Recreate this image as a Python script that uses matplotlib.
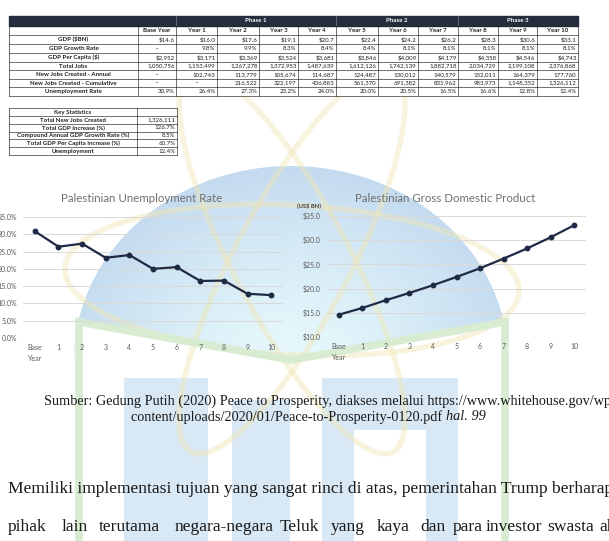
import numpy as np
import matplotlib.pyplot as plt
from matplotlib.patches import Rectangle, Ellipse, Polygon

# ---- data (Peace to Prosperity, p. 99) ----
years = ['Base Year'] + [f'Year {i}' for i in range(1, 11)]
phases = ['Phase 1', 'Phase 2', 'Phase 3']
phase_cols = [(1, 4), (5, 7), (8, 10)]

gdp = [14.6, 16.0, 17.6, 19.1, 20.7, 22.4, 24.2, 26.2, 28.3, 30.6, 33.1]
gdp_growth = [None, 9.8, 9.9, 8.3, 8.4, 8.4, 8.1, 8.1, 8.1, 8.1, 8.1]
gdp_per_capita = [2952, 3171, 3369, 3524, 3681, 3846, 4009, 4179, 4358, 4546, 4743]
total_jobs = [1050756, 1153499, 1267278, 1372953, 1487639, 1612126, 1742139,
              1882718, 2034729, 2199108, 2376868]
new_jobs_annual = [None, 102743, 113779, 105674, 114687, 124487, 130012,
                   140579, 152011, 164379, 177760]
new_jobs_cumulative = [None, None, 216522, 322197, 436883, 561370, 691382,
                       831962, 983973, 1148352, 1326112]
unemployment = [30.9, 26.4, 27.3, 23.2, 24.0, 20.0, 20.5, 16.5, 16.6, 12.8, 12.4]

key_labels = ['Key Statistics', 'Total New Jobs Created', 'Total GDP Increase (%)',
              'Compound Annual GDP Growth Rate (%)', 'Total GDP Per Capita Increase (%)',
              'Unemployment']
key_values = ['', '1,326,111', '126.7%', '8.5%', '60.7%', '12.4%']

x_labels = ['Base\nYear'] + [str(i) for i in range(1, 11)]

W, H = 609, 541
NAVY = '#1f2a45'
GREY = '#595959'


def fmt(v, kind):
    if v is None:
        return '-'
    if kind == 'usd1':
        return f'${v:.1f}'
    if kind == 'pct':
        return f'{v:.1f}%'
    if kind == 'usd0':
        return f'${v:,.0f}'
    return f'{v:,.0f}'


rows = [
    ('GDP ($BN)', [fmt(v, 'usd1') for v in gdp]),
    ('GDP Growth Rate', [fmt(v, 'pct') for v in gdp_growth]),
    ('GDP Per Capita ($)', [fmt(v, 'usd0') for v in gdp_per_capita]),
    ('Total Jobs', [fmt(v, 'int') for v in total_jobs]),
    ('New Jobs Created - Annual', [fmt(v, 'int') for v in new_jobs_annual]),
    ('New Jobs Created - Cumulative', [fmt(v, 'int') for v in new_jobs_cumulative]),
    ('Unemployment Rate', [fmt(v, 'pct') for v in unemployment]),
]


def px_rect(x0, y0, x1, y1):
    return [x0 / W, 1 - y1 / H, (x1 - x0) / W, (y1 - y0) / H]


fig = plt.figure(figsize=(W / 100, H / 100), dpi=100)
bg = fig.add_axes([0, 0, 1, 1])
bg.set_xlim(0, W)
bg.set_ylim(H, 0)
bg.axis('off')

# ---- watermark (faded logo) ----
cx, cy, a, b = 291, 360, 217, 194
th = np.linspace(0, np.pi, 120)
dome = list(zip(cx + a * np.cos(th), cy - b * np.sin(th)))
dome += [(77, 322), (291, 362), (507, 322)]
dome_patch = Polygon(dome, closed=True, facecolor='none', edgecolor='none')
bg.add_patch(dome_patch)
yy, xx = np.mgrid[160:370, 70:515]
t = np.clip(np.hypot((xx - 291) / 230, (yy - 370) / 200), 0, 1) ** 1.3
c0 = np.array([0.91, 0.98, 0.99])
c1 = np.array([0.77, 0.86, 0.94])
img = c0 + (c1 - c0) * t[..., None]
im = bg.imshow(img, extent=(70, 515, 370, 160), zorder=0, interpolation='bilinear')
im.set_clip_path(dome_patch)

for w, h, ang, cyy in [(455, 150, 3, 280), (430, 115, 62, 262), (430, 115, -62, 262)]:
    bg.add_patch(Ellipse((292, cyy), w, h, angle=ang, fill=False,
                         edgecolor='#f1e6b4', lw=4, alpha=0.45, zorder=0.5))

# letters
letter_c = '#d8e8f4'
bg.add_patch(Rectangle((124, 378), 84, 170, color=letter_c, zorder=0.4, lw=0))
bg.add_patch(Rectangle((232, 400), 58, 150, color=letter_c, zorder=0.4, lw=0))
bg.add_patch(Rectangle((322, 378), 136, 170, color=letter_c, zorder=0.4, lw=0))
bg.add_patch(Rectangle((354, 430), 72, 120, color='white', zorder=0.45, lw=0))

bg.plot([79, 79, 291, 505, 505], [550, 322, 360, 322, 550], color='#d8ecd2',
        lw=5.5, solid_joinstyle='miter', zorder=0.6)

# ---- main table ----
xs = [9, 138, 176, 217, 259, 298, 336, 378, 418, 458, 498, 537, 578]
ys = [16, 26, 35, 43.5, 52.5, 61.5, 70, 78.5, 87, 96]
tfont = dict(family='Lato', fontsize=4.4, fontweight='bold', color='#202020')
bg.add_patch(Rectangle((xs[0], ys[0]), xs[-1] - xs[0], ys[1] - ys[0],
                       color='#262d3f', zorder=2))
for xv in [xs[2], xs[6], xs[9]]:
    bg.plot([xv, xv], [ys[0], ys[1]], color='#8a8f9c', lw=0.4, zorder=3)
for name, (c0_, c1_) in zip(phases, phase_cols):
    bg.text((xs[c0_ + 1] + xs[c1_ + 2]) / 2, (ys[0] + ys[1]) / 2, name,
            ha='center', va='center', zorder=4, **{**tfont, 'color': 'white'})
bg.add_patch(Rectangle((xs[0], ys[1]), xs[-1] - xs[0], ys[-1] - ys[1],
                       facecolor='white', edgecolor='none', zorder=1.5))
for yv in ys[1:]:
    bg.plot([xs[0], xs[-1]], [yv, yv], color='#222222', lw=0.45, zorder=3)
for xv in xs:
    bg.plot([xv, xv], [ys[1], ys[-1]], color='#222222', lw=0.45, zorder=3)
for j, yl in enumerate(years):
    bg.text((xs[j + 1] + xs[j + 2]) / 2, (ys[1] + ys[2]) / 2 + 0.3, yl,
            ha='center', va='center', zorder=4, **tfont)
for i, (lab, vals) in enumerate(rows):
    ym = (ys[i + 2] + ys[i + 3]) / 2 + 0.3
    bg.text((xs[0] + xs[1]) / 2, ym, lab, ha='center', va='center', zorder=4, **tfont)
    for j, v in enumerate(vals):
        if v == '-':
            bg.text((xs[j + 1] + xs[j + 2]) / 2, ym, v, ha='center', va='center',
                    zorder=4, **tfont)
        else:
            bg.text(xs[j + 2] - 1.5, ym, v, ha='right', va='center', zorder=4,
                    **{**tfont, 'fontweight': 'normal'})

# ---- key statistics ----
kx = [9, 137, 177]
ky = np.linspace(108, 155, len(key_labels) + 1)
bg.add_patch(Rectangle((kx[0], ky[0]), kx[-1] - kx[0], ky[-1] - ky[0],
                       facecolor='white', edgecolor='none', zorder=1.5))
for yv in ky:
    bg.plot([kx[0], kx[-1]], [yv, yv], color='#222222', lw=0.45, zorder=3)
for xv in kx:
    bg.plot([xv, xv], [ky[0], ky[-1]], color='#222222', lw=0.45, zorder=3)
for i, (lab, val) in enumerate(zip(key_labels, key_values)):
    ym = (ky[i] + ky[i + 1]) / 2 + 0.3
    bg.text((kx[0] + kx[1]) / 2, ym, lab, ha='center', va='center', zorder=4, **tfont)
    bg.text(kx[2] - 1.5, ym, val, ha='right', va='center', zorder=4,
            **{**tfont, 'fontweight': 'normal'})


# ---- charts ----
def style(ax, ylim, ticks, labfmt):
    ax.set_facecolor('none')
    ax.set_xlim(-0.5, 10.5)
    ax.set_ylim(*ylim)
    ax.set_yticks(ticks)
    ax.set_yticklabels([labfmt(v) for v in ticks])
    ax.set_xticks(range(11))
    ax.set_xticklabels(x_labels, linespacing=1.6)
    ax.grid(axis='y', color='#d9d9d9', lw=0.7)
    ax.set_axisbelow(True)
    for s in ax.spines.values():
        s.set_visible(False)
    ax.tick_params(length=0, labelsize=5, labelcolor=GREY, pad=4.5)
    for lab in ax.get_xticklabels() + ax.get_yticklabels():
        lab.set_family('Lato')


axL = fig.add_axes(px_rect(23, 217, 283, 338))
style(axL, (0, 35), list(range(0, 36, 5)), lambda v: f'{v:.1f}%')
axL.plot(range(11), unemployment, color=NAVY, lw=1.6, marker='o', ms=3.2, zorder=5)

axR = fig.add_axes(px_rect(327, 216, 586, 337))
style(axR, (10, 35), list(range(10, 36, 5)), lambda v: f'${v:.1f}')
axR.plot(range(11), gdp, color=NAVY, lw=1.6, marker='o', ms=3.2, zorder=5)

bg.text(142, 199, 'Palestinian Unemployment Rate', ha='center', va='center',
        family='Lato', fontsize=8.3, color='#707070', zorder=4)
bg.text(445, 198, 'Palestinian Gross Domestic Product', ha='center', va='center',
        family='Lato', fontsize=8.3, color='#707070', zorder=4)
bg.text(297, 206, '(US$ BN)', ha='left', va='center', family='Lato', fontsize=4.2,
        fontweight='bold', color='#404040', zorder=4)

# ---- caption and body text ----
serif = dict(family='Liberation Serif', color='#1a1a1a', zorder=4)
bg.text(44, 401, 'Sumber: Gedung Putih (2020) Peace to Prosperity, diakses melalui '
        'https://www.whitehouse.gov/wp-', ha='left', va='center', fontsize=10.3, **serif)
cap2 = bg.text(131, 417, 'content/uploads/2020/01/Peace-to-Prosperity-0120.pdf ',
               ha='left', va='center', fontsize=10.3, **serif)
fig.canvas.draw()
ext = cap2.get_window_extent()
x_end = ext.x1 * W / fig.bbox.width
bg.text(x_end, 417, 'hal. 99', ha='left', va='center', fontsize=10.3,
        style='italic', **serif)

bg.text(8, 489, 'Memiliki implementasi tujuan yang sangat rinci di atas, pemerintahan '
        'Trump berharap', ha='left', va='center', fontsize=12.6, **serif)
words = ['pihak', 'lain', 'terutama', 'negara-negara', 'Teluk', 'yang', 'kaya', 'dan',
         'para', 'investor', 'swasta', 'akan']
word_x = [8, 62, 99, 175, 280, 331, 377, 420, 453, 486, 547, 599]
for wd, wx in zip(words, word_x):
    bg.text(wx, 527, wd, ha='left', va='center', fontsize=12.6, **serif)

fig.savefig('out.png', dpi=100)
